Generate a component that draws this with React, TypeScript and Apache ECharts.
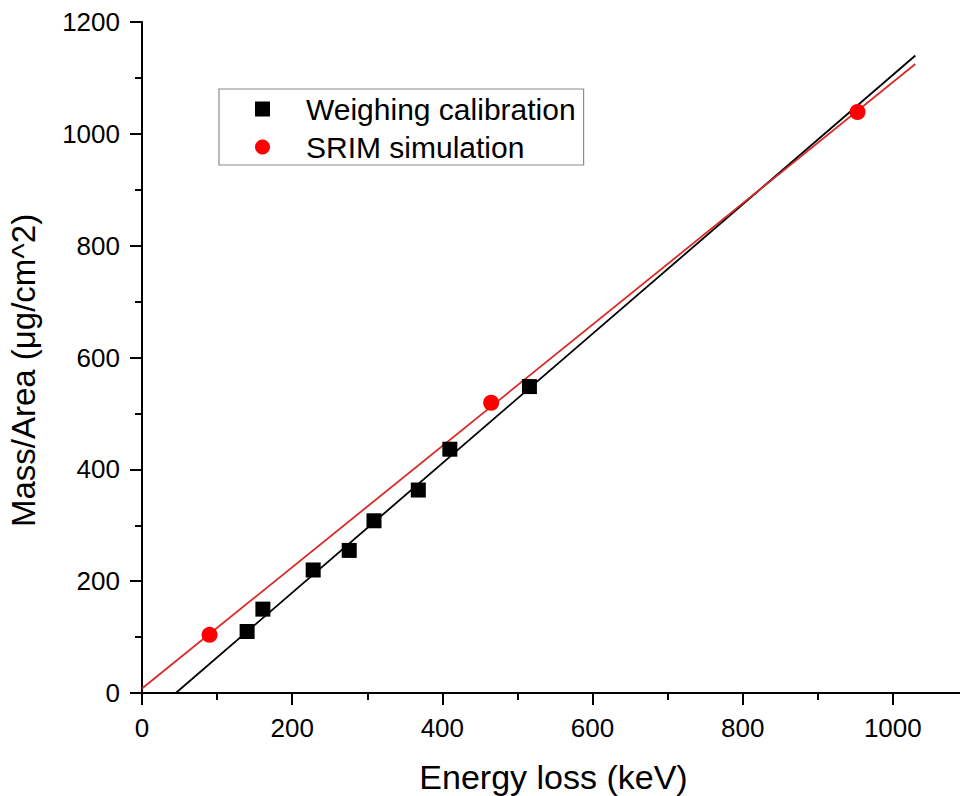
import React, { useEffect, useRef } from "react";
import * as echarts from "echarts";

const weighingX = [140, 161, 228, 276, 309, 368, 410, 516];
const weighingY = [110, 150, 220, 255, 308, 363, 436, 548];
const srimX = [90, 465, 953];
const srimY = [104, 519, 1039];
const weighingFitX = [45, 1030];
const weighingFitY = [0, 1140];
const srimFitX = [0, 1030];
const srimFitY = [8, 1125];
const xTicks = { min: 0, max: 1200, interval: 200 };
const yTicks = { min: 0, max: 1200, interval: 200 };

const zip = (a: number[], b: number[]) => a.map((v, i) => [v, b[i]]);

export default function App() {
  const ref = useRef<HTMLDivElement>(null);
  useEffect(() => {
    if (!ref.current) return;
    const chart = echarts.init(ref.current, null, { renderer: "svg" });
    const font = "Liberation Sans, Arial, sans-serif";
    const plain = (v: number) => String(v);
    chart.setOption({
      animation: false,
      backgroundColor: "#ffffff",
      textStyle: { fontFamily: font, color: "#000" },
      grid: {
        left: 142,
        top: 22,
        width: 901,
        height: 671,
        containLabel: false,
        outerBoundsMode: "none",
      },
      legend: {
        data: ["Weighing calibration", "SRIM simulation"],
        orient: "vertical",
        left: 219,
        top: 89,
        padding: [5, 8, 3, 36],
        itemGap: 8,
        itemWidth: 15,
        itemHeight: 15,
        borderColor: "#8c8c8c",
        borderWidth: 1.2,
        textStyle: {
          fontFamily: font,
          fontSize: 30,
          color: "#000",
          lineHeight: 30,
          padding: [0, 0, 0, 31],
        },
      },
      xAxis: {
        type: "value",
        min: xTicks.min,
        max: xTicks.max,
        interval: xTicks.interval,
        name: "Energy loss (keV)",
        nameLocation: "middle",
        nameGap: 67,
        nameTextStyle: { fontFamily: font, fontSize: 34, color: "#000", padding: [0, 78, 0, 0] },
        axisLine: { show: true, onZero: false, lineStyle: { color: "#000", width: 2 } },
        axisTick: { show: true, length: 12, lineStyle: { color: "#000", width: 2 } },
        minorTick: { show: true, splitNumber: 2, length: 7, lineStyle: { color: "#000", width: 2 } },
        axisLabel: {
          fontFamily: font,
          fontSize: 26,
          color: "#000",
          margin: 22,
          formatter: plain,
          showMaxLabel: false,
        },
        splitLine: { show: false },
      },
      yAxis: {
        type: "value",
        min: yTicks.min,
        max: yTicks.max,
        interval: yTicks.interval,
        name: "Mass/Area (μg/cm^2)",
        nameLocation: "middle",
        nameGap: 102,
        nameTextStyle: { fontFamily: font, fontSize: 33, color: "#000", padding: [0, 26, 0, 0] },
        axisLine: { show: true, onZero: false, lineStyle: { color: "#000", width: 2 } },
        axisTick: { show: true, length: 12, lineStyle: { color: "#000", width: 2 } },
        minorTick: { show: true, splitNumber: 2, length: 7, lineStyle: { color: "#000", width: 2 } },
        axisLabel: { fontFamily: font, fontSize: 26, color: "#000", margin: 22, formatter: plain },
        splitLine: { show: false },
      },
      series: [
        {
          name: "Weighing fit",
          type: "line",
          data: zip(weighingFitX, weighingFitY),
          showSymbol: false,
          lineStyle: { color: "#000", width: 1.8 },
          itemStyle: { color: "#000" },
          z: 2,
        },
        {
          name: "SRIM fit",
          type: "line",
          data: zip(srimFitX, srimFitY),
          showSymbol: false,
          lineStyle: { color: "#d92a2a", width: 1.8 },
          itemStyle: { color: "#d92a2a" },
          z: 2,
        },
        {
          name: "Weighing calibration",
          type: "scatter",
          symbol: "rect",
          symbolSize: 15,
          data: zip(weighingX, weighingY),
          itemStyle: { color: "#000", opacity: 1 },
          z: 3,
        },
        {
          name: "SRIM simulation",
          type: "scatter",
          symbol: "circle",
          symbolSize: 16,
          data: zip(srimX, srimY),
          itemStyle: { color: "#ff0000", opacity: 1 },
          z: 3,
        },
      ],
    });
    return () => chart.dispose();
  }, []);
  return (
    <div
      ref={ref}
      style={{ position: "absolute", left: 0, top: 0, width: 960, height: 796 }}
    />
  );
}
